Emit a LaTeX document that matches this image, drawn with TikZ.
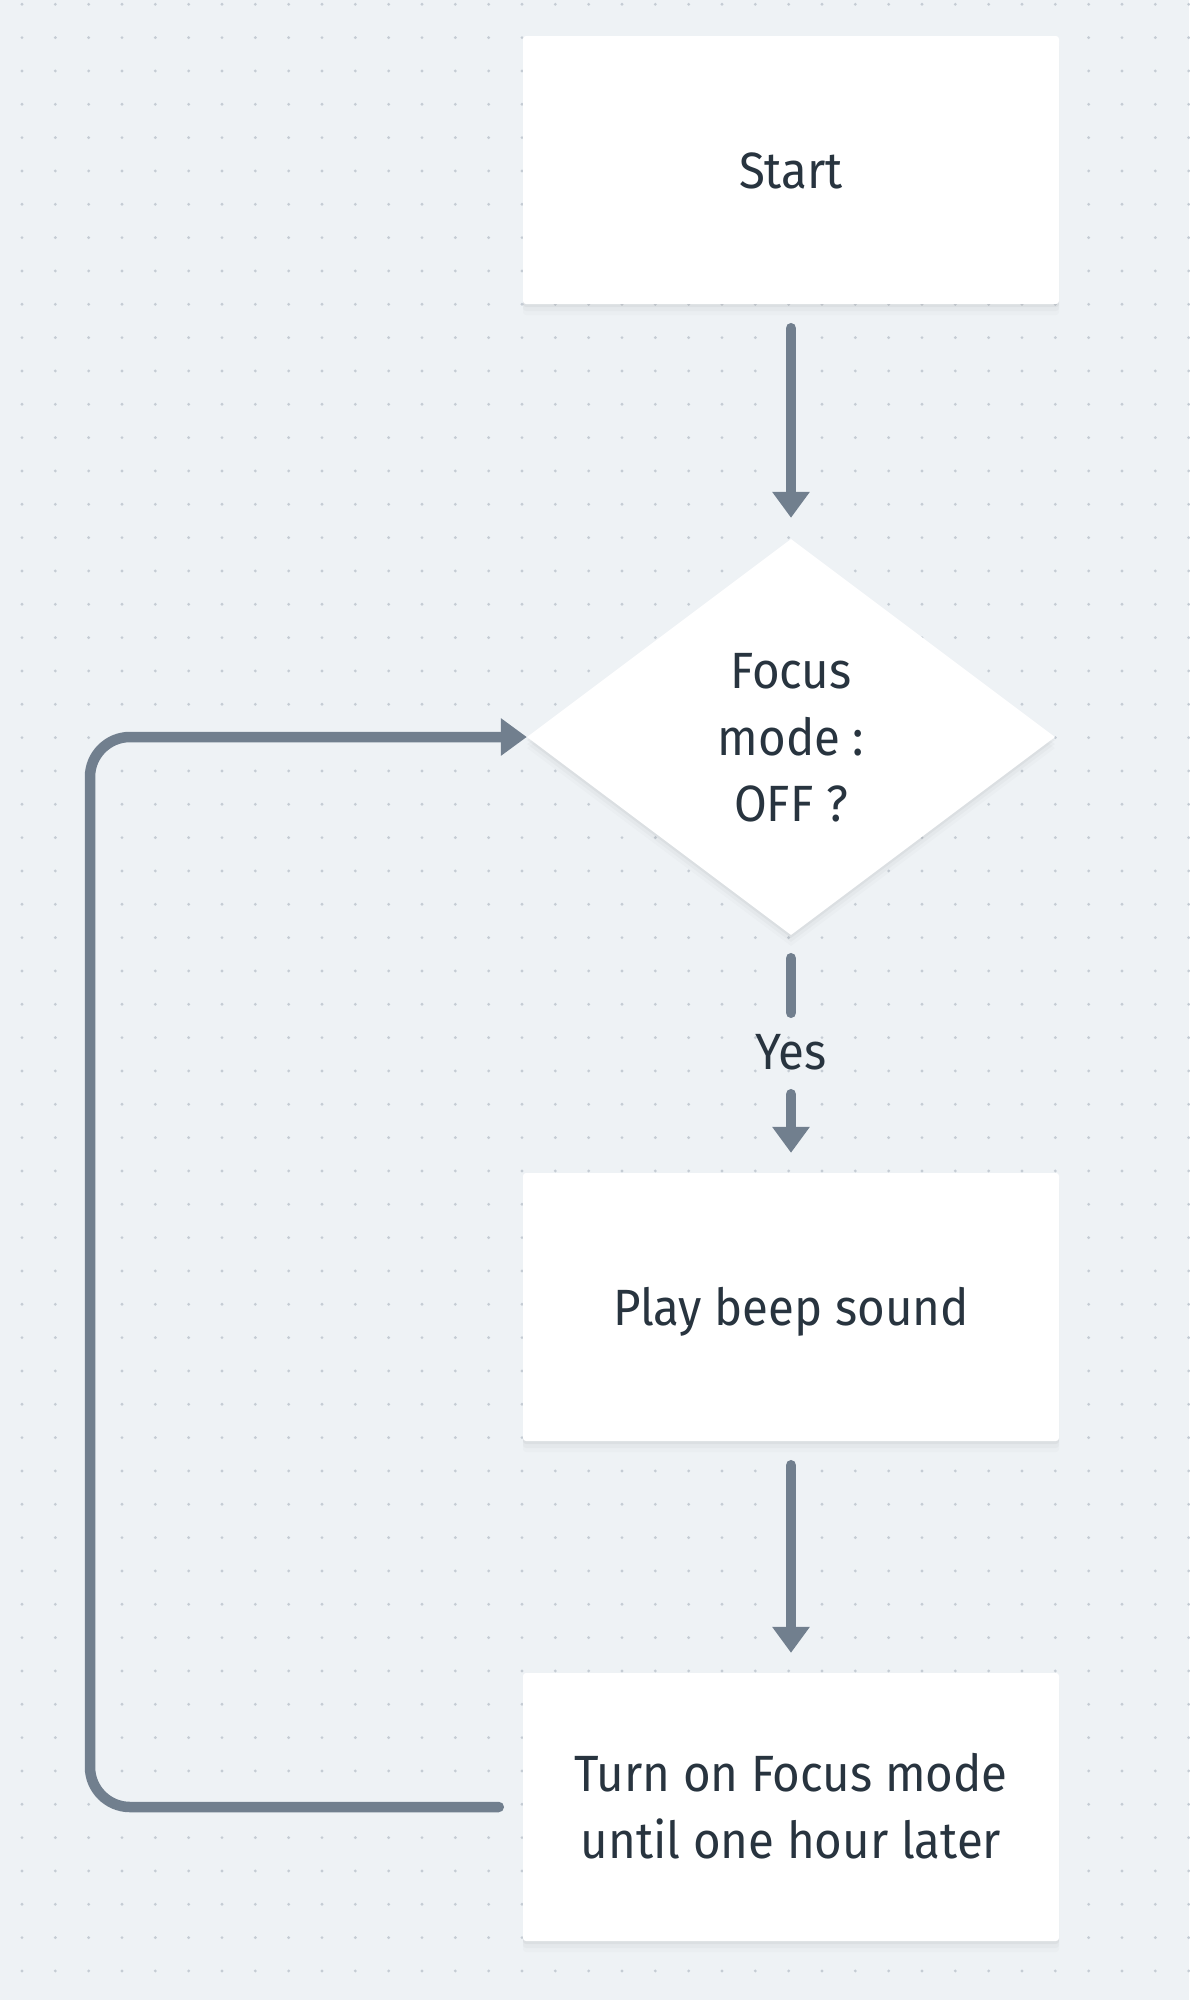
\documentclass[tikz,border=0pt]{standalone}
\usepackage{fontspec}
\setmainfont[FakeStretch=0.93]{Fira Sans}
\usetikzlibrary{arrows.meta,shapes.geometric,shadows}
\definecolor{bg}{HTML}{EEF2F5}
\definecolor{dotc}{HTML}{C5CCD4}
\definecolor{linec}{HTML}{717F8E}
\definecolor{txt}{HTML}{28343F}
\begin{document}
\begin{tikzpicture}[x=1pt,y=-1pt,
  lbl/.style={font=\fontsize{51}{66.5}\selectfont, text=txt},
  oneline/.style={text height=36pt, text depth=0pt},
  softshadow/.style={
    drop shadow={shadow xshift=0pt, shadow yshift=-3pt, opacity=0.035, fill=black},
    drop shadow={shadow xshift=0pt, shadow yshift=-7pt, opacity=0.025, fill=black},
    drop shadow={shadow xshift=0pt, shadow yshift=-11pt, opacity=0.015, fill=black}},
  card/.style={lbl, fill=white, rounded corners=3pt, minimum width=536pt, minimum height=268pt, inner sep=0pt, align=center, softshadow},
  decision/.style={lbl, diamond, fill=white, minimum width=528pt, minimum height=396pt, inner sep=0pt, shape aspect=1.333, align=center, softshadow},
  conn/.style={draw=linec, line width=10.5pt, line cap=round, -{Triangle[width=36pt,length=26pt]}},
  plainconn/.style={draw=linec, line width=10.5pt, line cap=round}
]
% background
\fill[bg] (0,0) rectangle (1189,2000);
\path[use as bounding box] (0,0) rectangle (1189,2000);
\foreach \i in {0,...,35} {
  \foreach \j in {0,...,59} {
    \fill[dotc] (22+33.333*\i, 4.3+33.333*\j) circle (1.6pt);
  }
}
% nodes
\node[card, oneline] (start) at (791,170) {Start};
\node[decision, text height=169pt, text depth=0pt] (dia) at (791,737) {Focus\\mode :\\OFF ?};
\node[lbl, oneline, inner sep=0pt] (yes) at (791,1051) {Yes};
\node[card, oneline] (play) at (791,1307) {Play beep sound};
\node[card, text height=102.5pt, text depth=0pt] (turn) at (791,1807) {Turn on Focus mode\\until one hour later};
\coordinate (loopx) at (90,1200);
% connectors
\draw[conn, shorten <=24pt, shorten >=21pt] (start.south) -- (dia.north);
\draw[plainconn, shorten <=23pt, shorten >=20pt] (dia.south) -- (yes.north);
\draw[conn, shorten <=25pt, shorten >=20pt] (yes.south) -- (play.north);
\draw[conn, shorten <=24pt, shorten >=20pt] (play.south) -- (turn.north);
\draw[conn, rounded corners=40pt, shorten <=24pt] (turn.west) -- (turn.west -| loopx) -- (dia.west -| loopx) -- (dia.west);
\end{tikzpicture}
\end{document}
